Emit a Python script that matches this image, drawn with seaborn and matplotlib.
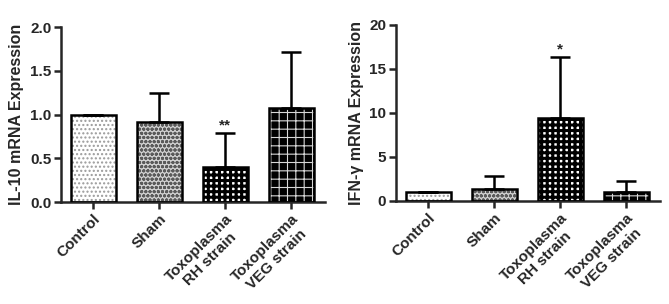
import matplotlib.pyplot as plt
import matplotlib.patches as mpatches
import numpy as np
import pandas as pd
import seaborn as sns

# Data
groups = ["Control", "Sham", "Toxoplasma\nRH strain", "Toxoplasma\nVEG strain"]
il10_mean = [1.0, 0.92, 0.40, 1.08]
il10_upper = [1.0, 1.25, 0.79, 1.72]
ifng_mean = [1.0, 1.4, 9.4, 1.0]
ifng_upper = [1.0, 2.8, 16.3, 2.3]
il10_stars = ["", "", "**", ""]
ifng_stars = ["", "", "*", ""]

# fill style per bar: (background, hatch colour, hatch, hatch linewidth)
styles = [("white", "#9a9a9a", "....", 1.0),
          ("#d0d0d0", "#5a5a5a", "oooo", 1.0),
          ("white", "black", "+++", 2.2),
          ("black", "#d8d8d8", "++", 0.8)]

sns.set_style("ticks")
plt.rcParams['font.family'] = ['Liberation Sans', 'DejaVu Sans']
plt.rcParams['font.weight'] = 'bold'
plt.rcParams['hatch.linewidth'] = 1.0

fig = plt.figure(figsize=(6.69, 3.04), dpi=100)
ax1 = fig.add_axes([0.0912, 0.3355, 0.395, 0.5755])
ax2 = fig.add_axes([0.592, 0.339, 0.395, 0.579])


def panel(ax, means, uppers, stars, ylim, yticks, yfmt, ylabel):
    df = pd.DataFrame({"group": groups, "value": means})
    sns.barplot(data=df, x="group", y="value", ax=ax, width=0.68,
                color="white", errorbar=None)
    for i, p in enumerate(list(ax.patches)):
        bg, hc, hatch, hlw = styles[i]
        p.set_facecolor(bg)
        p.set_edgecolor(hc)
        p.set_hatch(hatch)
        p.set_linewidth(0)
        if hasattr(p, "set_hatch_linewidth"):
            p.set_hatch_linewidth(hlw)
        else:
            p._hatch_linewidth = hlw
        ax.add_patch(mpatches.Rectangle(p.get_xy(), p.get_width(), p.get_height(),
                                        fill=False, edgecolor="black", lw=1.8, zorder=3))
    x = np.arange(len(means))
    err = np.array(uppers) - np.array(means)
    ax.errorbar(x, means, yerr=[np.zeros_like(err), err], fmt="none",
                ecolor="black", elinewidth=1.8, capsize=7, capthick=1.8, zorder=2)
    for xi, up, s in zip(x, uppers, stars):
        if s:
            ax.text(xi, up + (ylim[1] * 0.005), s, ha="center", va="bottom",
                    fontsize=11, fontweight="bold")
    ax.set_xlim(-0.485, 3.515)
    ax.set_ylim(*ylim)
    ax.set_yticks(yticks)
    ax.set_yticklabels([yfmt.format(v) for v in yticks], fontsize=11, fontweight="bold")
    ax.set_xticks(x)
    ax.set_xticklabels(groups, rotation=45, ha="right", rotation_mode="anchor",
                       multialignment="center", fontsize=11, fontweight="bold")
    ax.set_xlabel("")
    ax.set_ylabel(ylabel, fontsize=11.5, fontweight="bold")
    for side in ["left", "bottom"]:
        ax.spines[side].set_linewidth(1.8)
    sns.despine(ax=ax)
    ax.tick_params(width=1.8, length=5, direction="out", pad=2)


panel(ax1, il10_mean, il10_upper, il10_stars, (0, 2.0),
      [0.0, 0.5, 1.0, 1.5, 2.0], "{:.1f}", "IL-10 mRNA Expression")
panel(ax2, ifng_mean, ifng_upper, ifng_stars, (0, 20),
      [0, 5, 10, 15, 20], "{:d}", "IFN-\u03b3 mRNA Expression")

fig.savefig("out.png", dpi=100)
